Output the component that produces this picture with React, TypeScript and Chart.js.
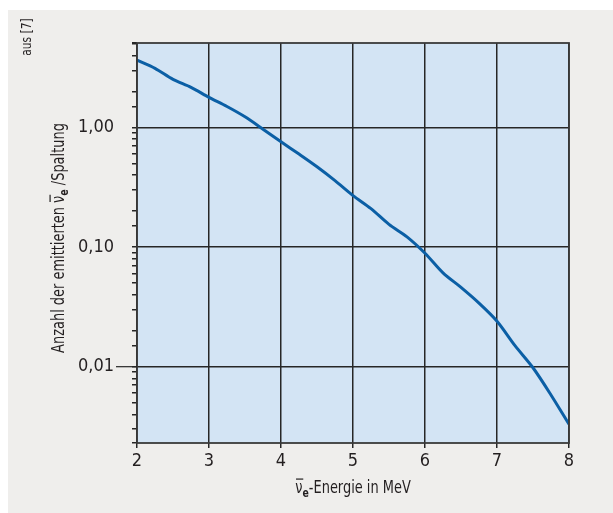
import React, { useEffect, useRef } from "react";
import { Chart, registerables } from "chart.js";

Chart.register(...registerables);

// ---- data ----
const energies = [2, 2.25, 2.5, 2.75, 3, 3.25, 3.5, 3.75, 4, 4.25, 4.5, 4.75, 5, 5.25, 5.5, 5.75, 6, 6.25, 6.5, 6.75, 7, 7.25, 7.5, 7.75, 8];
const counts = [3.66, 3.13, 2.53, 2.17, 1.79, 1.5, 1.23, 0.97, 0.76, 0.6, 0.47, 0.36, 0.27, 0.21, 0.155, 0.122, 0.089, 0.061, 0.046, 0.034, 0.024, 0.015, 0.0098, 0.0058, 0.0033];
const xTickValues = [2, 3, 4, 5, 6, 7, 8];
const yTickValues = [0.01, 0.1, 1];
const yTickLabels = ["0,01", "0,10", "1,00"];
const yMin = 0.0023;
const yMax = 5.1;
const sourceNote = "aus [7]";
const yTitleParts = ["Anzahl der emittierten ", "ν", "e", " /Spaltung"];
const xTitleParts = ["ν", "e", "-Energie in MeV"];

const FONT = "'Liberation Sans Narrow', 'DejaVu Sans Condensed', 'Arial Narrow', sans-serif";
const TEXT = "#231f20";
const GRID = "#262626";

type Part = { text: string; size: number; weight?: string; dy?: number; overline?: boolean };

function drawParts(
  ctx: CanvasRenderingContext2D,
  parts: Part[],
  cx: number,
  cy: number,
  rotate: boolean,
  squeeze: number
) {
  ctx.save();
  ctx.translate(cx, cy);
  if (rotate) ctx.rotate(-Math.PI / 2);
  ctx.scale(squeeze, 1);
  ctx.textBaseline = "alphabetic";
  ctx.textAlign = "left";
  ctx.fillStyle = TEXT;
  ctx.strokeStyle = TEXT;
  const widths = parts.map((p) => {
    ctx.font = `${p.weight || "normal"} ${p.size}px ${FONT}`;
    return ctx.measureText(p.text).width;
  });
  const total = widths.reduce((a, b) => a + b, 0);
  let x = -total / 2;
  const base = parts[0].size * 0.36;
  parts.forEach((p, i) => {
    ctx.font = `${p.weight || "normal"} ${p.size}px ${FONT}`;
    ctx.fillText(p.text, x, base + (p.dy || 0));
    if (p.overline) {
      ctx.beginPath();
      ctx.lineWidth = 1.2;
      const oy = base - p.size * 0.8;
      ctx.moveTo(x + 1, oy);
      ctx.lineTo(x + widths[i] + 1, oy);
      ctx.stroke();
    }
    x += widths[i];
  });
  ctx.restore();
}

const isDecade = (v: number) => Math.abs(Math.log10(v) - Math.round(Math.log10(v))) < 1e-6;

const decorPlugin = {
  id: "decor",
  beforeDraw(chart: any) {
    const { ctx, chartArea: a } = chart;
    ctx.save();
    ctx.fillStyle = "#d3e4f4";
    ctx.fillRect(a.left, a.top, a.right - a.left, a.bottom - a.top);
    ctx.restore();
  },
  afterDraw(chart: any) {
    const { ctx, chartArea: a } = chart;
    const y = chart.scales.y;
    ctx.save();
    ctx.strokeStyle = "#3a3a3a";
    ctx.lineWidth = 1.8;
    ctx.strokeRect(a.left, a.top, a.right - a.left, a.bottom - a.top);
    // extended tick at lowest decade
    const py = y.getPixelForValue(yTickValues[0]);
    ctx.strokeStyle = GRID;
    ctx.lineWidth = 1.2;
    ctx.beginPath();
    ctx.moveTo(a.left - 21, py);
    ctx.lineTo(a.left, py);
    ctx.stroke();
    ctx.restore();

    const mid = (a.top + a.bottom) / 2;
    drawParts(
      ctx,
      [
        { text: yTitleParts[0], size: 18 },
        { text: yTitleParts[1], size: 18, overline: true },
        { text: yTitleParts[2], size: 13, weight: "bold", dy: 4 },
        { text: yTitleParts[3], size: 18 },
      ],
      a.left - 79,
      mid - 5,
      true,
      0.8
    );
    drawParts(
      ctx,
      [
        { text: xTitleParts[0], size: 18, overline: true },
        { text: xTitleParts[1], size: 13, weight: "bold", dy: 4 },
        { text: xTitleParts[2], size: 18 },
      ],
      (a.left + a.right) / 2,
      a.bottom + 44,
      false,
      0.8
    );
    drawParts(ctx, [{ text: sourceNote, size: 14 }], 18, 27, true, 0.85);
  },
};

export default function App() {
  const ref = useRef<HTMLCanvasElement | null>(null);

  useEffect(() => {
    if (!ref.current) return;
    const chart = new Chart(ref.current, {
      type: "line",
      data: {
        datasets: [
          {
            data: energies.map((e, i) => ({ x: e, y: counts[i] })),
            borderColor: "#0b5fa5",
            borderWidth: 3,
            pointRadius: 0,
            tension: 0.3,
            fill: false,
          },
        ],
      },
      options: {
        animation: false,
        responsive: false,
        maintainAspectRatio: false,
        layout: { padding: { left: 0, top: 33, right: 44, bottom: 0 } },
        plugins: { legend: { display: false }, tooltip: { enabled: false } },
        scales: {
          x: {
            type: "linear",
            min: 2,
            max: 8,
            afterFit: (s: any) => {
              s.height = 70;
            },
            afterBuildTicks: (s: any) => {
              s.ticks = xTickValues.map((v) => ({ value: v }));
            },
            ticks: {
              color: TEXT,
              font: { family: FONT, size: 18 },
              padding: 3,
              autoSkip: false,
              maxRotation: 0,
            },
            grid: { color: GRID, lineWidth: 1.5, tickLength: 5, tickColor: GRID },
            border: { display: false },
          },
          y: {
            type: "logarithmic",
            min: yMin,
            max: yMax,
            afterFit: (s: any) => {
              s.width = 129;
            },
            ticks: {
              color: TEXT,
              font: { family: FONT, size: 18 },
              padding: 18,
              autoSkip: false,
              callback: (value: any) => {
                const i = yTickValues.findIndex((v) => Math.abs(v - Number(value)) / v < 1e-6);
                return i >= 0 ? yTickLabels[i] : "";
              },
            },
            grid: {
              color: (c: any) => (c.tick && isDecade(c.tick.value) ? GRID : "rgba(0,0,0,0)"),
              lineWidth: 1.5,
              tickLength: 5,
              tickColor: GRID,
            },
            border: { display: false },
          },
        },
      },
      plugins: [decorPlugin],
    });
    return () => chart.destroy();
  }, []);

  return (
    <div
      style={{
        position: "absolute",
        left: 8,
        top: 10,
        width: 605,
        height: 503,
        background: "#efeeec",
      }}
    >
      <canvas ref={ref} width={605} height={503} style={{ display: "block", width: 605, height: 503 }} />
    </div>
  );
}
